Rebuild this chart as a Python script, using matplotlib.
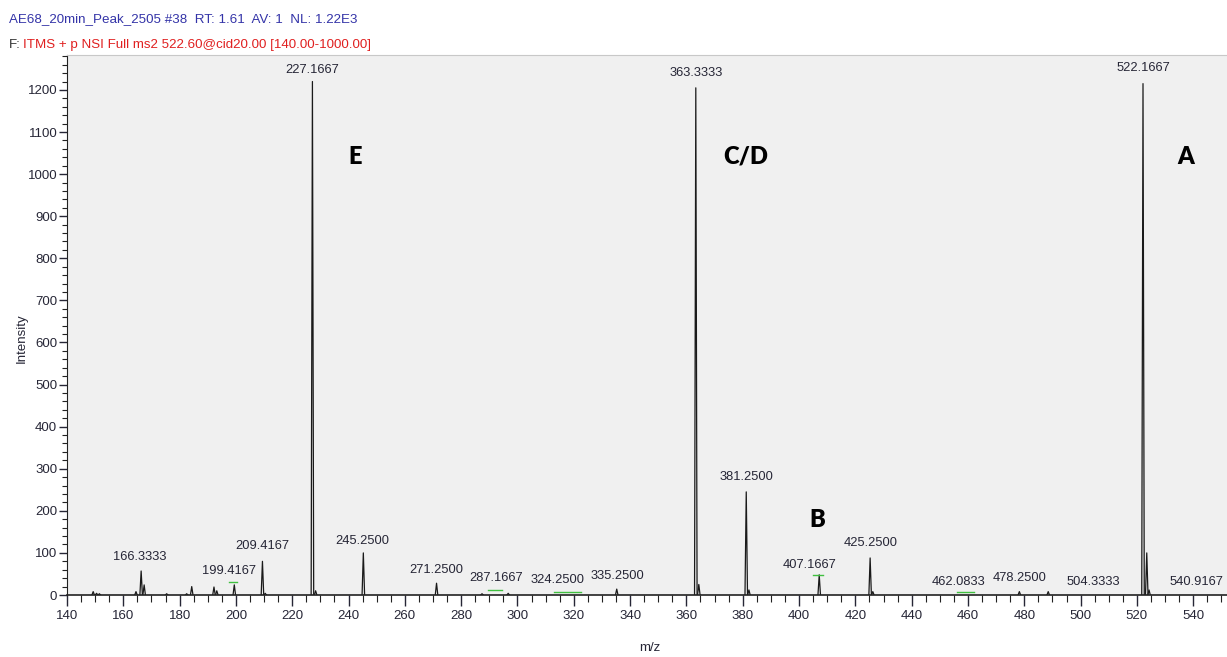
import matplotlib

matplotlib.use("Agg")
import matplotlib.pyplot as plt
from matplotlib.ticker import MultipleLocator

NARROW = ["Liberation Sans", "DejaVu Sans"]

# peak list: m/z and intensity
peak_mz = [149.3, 150.5, 151.5, 164.5, 166.3333, 167.4, 175.4, 182.5, 184.3,
           192.2, 193.2, 199.4167, 209.4167, 210.4, 227.1667, 228.3, 245.25,
           271.25, 287.4, 296.7, 335.25, 363.3333, 364.4, 381.25, 382.2,
           407.1667, 425.25, 426.2, 478.25, 488.5, 522.1667, 523.5, 524.3]
peak_int = [8, 4, 3, 8, 57, 24, 3, 3, 20,
            19, 10, 24, 80, 4, 1220, 10, 100,
            28, 3, 4, 14, 1205, 25, 245, 12,
            48, 88, 8, 8, 8, 1215, 100, 12]

# peak labels and where they sit (m/z, intensity of label centre)
label_text = ["227.1667", "363.3333", "522.1667", "166.3333", "199.4167",
              "209.4167", "245.2500", "271.2500", "287.1667", "324.2500",
              "335.2500", "381.2500", "407.1667", "425.2500", "462.0833",
              "478.2500", "504.3333", "540.9167"]
label_x = [227.17, 363.33, 522.17, 165.9, 197.5, 209.3, 244.8, 271.1, 292.4,
           314.1, 335.4, 381.2, 403.9, 425.6, 456.5, 478.5, 504.5, 541.1]
label_y = [1248, 1240, 1252, 90, 57, 116, 128, 59, 40,
           36, 45, 280, 71, 124, 31, 40, 31, 31]

# fragment letters
frag_text = ["E", "C/D", "A", "B"]
frag_x = [242.3, 380.9, 537.2, 406.4]
frag_y = [1041, 1041, 1041, 178]

# little green marks under some labels
green_x0 = [197.5, 289.5, 313.0, 405.0, 456.0]
green_x1 = [200.5, 294.5, 322.5, 408.5, 462.0]
green_y = [30, 13, 8, 48, 7]

fig = plt.figure(figsize=(12.27, 6.57), dpi=100)
ax = fig.add_axes([67 / 1227, 62 / 657, 1 - 67 / 1227, (595 - 55) / 657])
ax.set_facecolor("#f0f0f0")

half = 0.45
for mz, h in zip(peak_mz, peak_int):
    ax.plot([mz - half, mz, mz + half], [0, h, 0], color="#1a1a1a", lw=0.9)

for t, x, y in zip(label_text, label_x, label_y):
    ax.text(x, y, t, ha="center", va="center", fontsize=9.3,
            family=NARROW, color="#262636")

for t, x, y in zip(frag_text, frag_x, frag_y):
    ax.text(x, y, t, ha="center", va="center", fontsize=17,
            family=["Lato", "DejaVu Sans"], fontweight="heavy", color="black")

for x0, x1, y in zip(green_x0, green_x1, green_y):
    ax.plot([x0, x1], [y, y], color="#40c040", lw=1.0)

ax.set_xlim(140, 552)
ax.set_ylim(0, 1283)
ax.xaxis.set_major_locator(MultipleLocator(20))
ax.xaxis.set_minor_locator(MultipleLocator(5))
ax.yaxis.set_major_locator(MultipleLocator(100))
ax.yaxis.set_minor_locator(MultipleLocator(20))
ax.tick_params(axis="x", which="major", direction="out", length=8, width=1,
               labelsize=9.5, pad=3, colors="#262636")
ax.tick_params(axis="x", which="minor", direction="out", length=5, width=0.8,
               colors="#222222")
ax.tick_params(axis="y", which="major", direction="out", length=6, width=1,
               labelsize=9.5, pad=1, colors="#262636")
ax.tick_params(axis="y", which="minor", direction="out", length=3.5, width=0.8,
               colors="#222222")
for lab in ax.get_xticklabels() + ax.get_yticklabels():
    lab.set_family(NARROW)

ax.spines["right"].set_visible(False)
ax.spines["top"].set_color("#c8c8c8")
ax.spines["left"].set_color("#222222")
ax.spines["bottom"].set_color("#222222")
ax.spines["bottom"].set_linewidth(1.2)

fig.text(22 / 1227, 1 - 338 / 657, "Intensity", rotation=90, ha="center",
         va="center", fontsize=9.5, family=NARROW, color="#262636")
fig.text(650 / 1227, 1 - 648 / 657, "m/z", ha="center", va="center",
         fontsize=9.5, family=NARROW, color="#262636")

fig.text(9 / 1227, 1 - 19 / 657,
         "AE68_20min_Peak_2505 #38  RT: 1.61  AV: 1  NL: 1.22E3",
         ha="left", va="center", fontsize=9.6, family=NARROW, color="#3434a8")
fig.text(9 / 1227, 1 - 45 / 657, "F:", ha="left", va="center",
         fontsize=9.6, family=NARROW, color="#333333")
fig.text(23 / 1227, 1 - 45 / 657,
         "ITMS + p NSI Full ms2 522.60@cid20.00 [140.00-1000.00]",
         ha="left", va="center", fontsize=9.6, family=NARROW, color="#e02020")

fig.savefig("out.png", dpi=100)
